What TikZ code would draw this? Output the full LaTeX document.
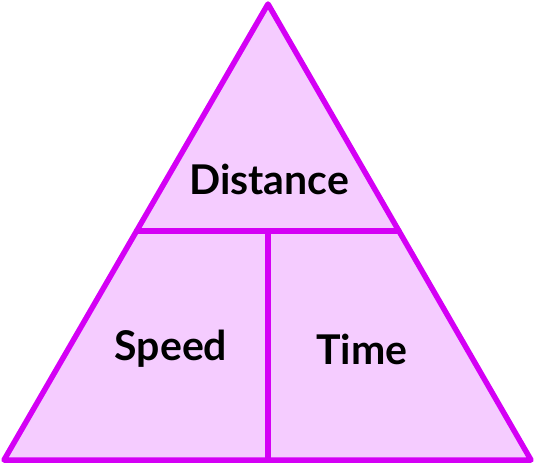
\documentclass[tikz,border=0pt]{standalone}
\usepackage{fontspec}
\setmainfont{Lato}
\usetikzlibrary{positioning, calc}
\definecolor{triline}{HTML}{D400F5}
\definecolor{trifill}{HTML}{F5CCFF}
\tikzset{
  part/.style={draw=triline, line width=5.5pt, line join=round, line cap=round}, % outline of the triangle
  word/.style={font=\fontsize{41}{46}\selectfont\bfseries, text=black}, % the three labels
}
\begin{document}
\begin{tikzpicture}[x=1pt, y=-1pt]
\useasboundingbox (0,0) rectangle (535,464);
\coordinate (top) at (268,4);
\coordinate (left) at (4,460);
\coordinate (right) at (531,460);
\coordinate (midL) at ($(top)!0.4978!(left)$);
\coordinate (midR) at ($(top)!0.4978!(right)$);
\coordinate (midC) at (268,231);
\coordinate (baseC) at (268,460);

\fill[trifill] (top) -- (left) -- (right) -- cycle;
\draw[part] (top) -- (left) -- (right) -- cycle;
\draw[part] (midL) -- (midR);
\draw[part] (midC) -- (baseC);

\node[word] (dist) at (269,179) {Distance};
\node[word] (speed) at (171,349) {Speed};
\node[word] (time) at (362,349) {Time};
\end{tikzpicture}
\end{document}
